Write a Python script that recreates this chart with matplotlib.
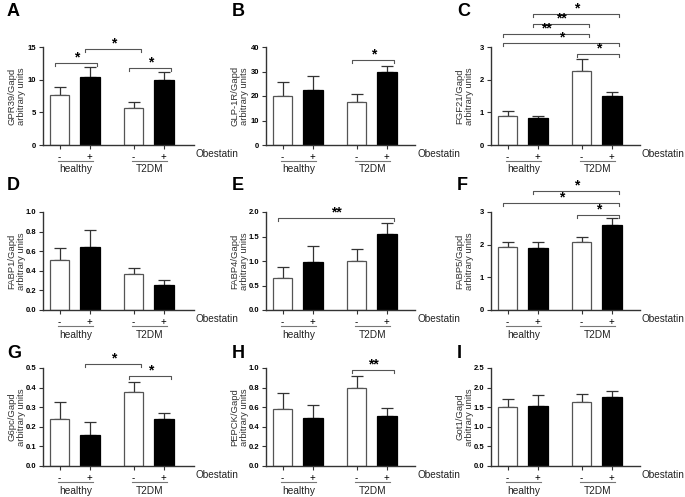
"""
Expresión relativa de genes (9 paneles A-I), healthy vs T2DM, con y sin Obestatin.
Barras blancas = sin Obestatin, negras = con Obestatin; error = SEM hacia arriba.
"""
import matplotlib
matplotlib.use("Agg")
import matplotlib.pyplot as plt

plt.rcParams["font.family"] = ["Liberation Sans", "DejaVu Sans"]

# ==================================================
OUT_PNG = "out.png"
W, H = 685, 497
GRIS = "#555555"

letras = ["A", "B", "C", "D", "E", "F", "G", "H", "I"]
genes = ["GPR39", "GLP-1R", "FGF21", "FABP1", "FABP4", "FABP5", "G6pc", "PEPCK", "Got1"]
grupos = ["healthy", "T2DM"]
tick_labels = ["-", "+", "-", "+"]

# orden de barras: healthy -, healthy +, T2DM -, T2DM +
medias = [
    [7.7, 10.4, 5.7, 9.9],
    [20.2, 22.5, 17.5, 29.8],
    [0.90, 0.83, 2.28, 1.50],
    [0.51, 0.64, 0.37, 0.26],
    [0.66, 0.97, 1.00, 1.56],
    [1.93, 1.90, 2.08, 2.60],
    [0.24, 0.16, 0.38, 0.24],
    [0.58, 0.49, 0.80, 0.51],
    [1.51, 1.54, 1.63, 1.77],
]
sems = [
    [1.2, 1.5, 0.9, 1.3],
    [5.6, 5.8, 3.4, 2.5],
    [0.15, 0.07, 0.35, 0.12],
    [0.12, 0.18, 0.06, 0.05],
    [0.21, 0.34, 0.25, 0.22],
    [0.16, 0.19, 0.14, 0.21],
    [0.085, 0.065, 0.05, 0.03],
    [0.16, 0.13, 0.12, 0.08],
    [0.21, 0.27, 0.20, 0.15],
]
yticks = [
    [0, 5, 10, 15],
    [0, 10, 20, 30, 40],
    [0, 1, 2, 3],
    [0.0, 0.2, 0.4, 0.6, 0.8, 1.0],
    [0.0, 0.5, 1.0, 1.5, 2.0],
    [0, 1, 2, 3],
    [0.0, 0.1, 0.2, 0.3, 0.4, 0.5],
    [0.0, 0.2, 0.4, 0.6, 0.8, 1.0],
    [0.0, 0.5, 1.0, 1.5, 2.0, 2.5],
]
ytick_fmt = ["{:.0f}", "{:.0f}", "{:.0f}", "{:.1f}", "{:.1f}", "{:.0f}", "{:.1f}", "{:.1f}", "{:.1f}"]
# (barra i, barra j, altura, etiqueta)
corchetes = [
    [(0, 1, 12.6, "*"), (1, 2, 14.7, "*"), (2, 3, 11.8, "*")],
    [(2, 3, 34.7, "*")],
    [(1, 3, 4.02, "*"), (1, 2, 3.70, "**"), (0, 2, 3.39, "**"), (0, 3, 3.12, "*"), (2, 3, 2.78, "*")],
    [],
    [(0, 3, 1.88, "**")],
    [(1, 3, 3.63, "*"), (0, 3, 3.27, "*"), (2, 3, 2.91, "*")],
    [(1, 2, 0.52, "*"), (2, 3, 0.46, "*")],
    [(2, 3, 0.98, "**")],
    [],
]
# =============================================================

POS = [0, 1, 2.45, 3.45]
COL_X = [43, 266, 491]          # px del eje y de cada columna
COL_W = [151, 149, 149]
ROW_Y = [145, 310, 466]         # px del eje x de cada fila
LETRA_Y = [12, 185, 354]
AX_H = 98


def panel(fig, k):
    col, row = k % 3, k // 3
    x0, yb, aw = COL_X[col], ROW_Y[row], COL_W[col]
    ax = fig.add_axes([x0 / W, 1 - yb / H, aw / W, AX_H / H])
    ax.errorbar(POS, medias[k], yerr=[[0] * 4, sems[k]], fmt="none", ecolor="#333333",
                elinewidth=0.9, capsize=4, capthick=0.9, zorder=1)
    ax.bar(POS, medias[k], width=0.65, color=["white", "black", "white", "black"],
           edgecolor=[GRIS, "black", GRIS, "black"], linewidth=0.9, zorder=2)
    yt = yticks[k]
    ax.set_ylim(0, yt[-1]); ax.set_xlim(-0.55, 4.45 - (151 - aw) / 30)
    ax.set_yticks(yt); ax.set_yticklabels([ytick_fmt[k].format(v) for v in yt],
                                          fontsize=5.5, fontweight="bold")
    ax.set_xticks(POS); ax.set_xticklabels(tick_labels, fontsize=7)
    ax.tick_params(axis="both", length=3, width=0.8, pad=2, color="#333333")
    for s in ["top", "right"]:
        ax.spines[s].set_visible(False)
    for s in ["left", "bottom"]:
        ax.spines[s].set_linewidth(1.0); ax.spines[s].set_color("#333333")
    ax.set_ylabel(f"{genes[k]}/Gapd\narbitrary units", fontsize=6.8, color="#333333", linespacing=1.1)
    ax.yaxis.set_label_coords(-17 / aw, 0.5)
    tr = ax.get_xaxis_transform()
    ax.text(1 + 2 / aw, -9 / AX_H, "Obestatin", transform=ax.transAxes, fontsize=7.2,
            ha="left", va="center", color="#222222")
    for g, nombre in enumerate(grupos):
        a, b = POS[2 * g], POS[2 * g + 1]
        ax.plot([a - 0.05, b + 0.1], [-16 / AX_H] * 2, color="#777777", lw=0.8,
                transform=tr, clip_on=False)
        ax.text((a + b) / 2 + 0.03, -24.5 / AX_H, nombre, transform=tr, fontsize=7.3,
                ha="center", va="center", color="#222222")
    drop = 0.03 * yt[-1]
    for i, j, y, lab in corchetes[k]:
        xa, xb = POS[i] - 0.15, POS[j] + 0.25
        ax.plot([xa, xa, xb, xb], [y - drop, y, y, y - drop], color=GRIS, lw=0.8, clip_on=False)
        ax.annotate(lab, ((xa + xb) / 2, y), xytext=(0, -1), textcoords="offset points",
                    ha="center", va="bottom", fontsize=10, fontweight="bold", annotation_clip=False)
    fig.text([7, 232, 457][col] / W, 1 - LETRA_Y[row] / H, letras[k], fontsize=13,
             fontweight="bold", ha="left", va="center")
    return ax


def main():
    fig = plt.figure(figsize=(W / 100, H / 100), dpi=100)
    for k in range(9):
        panel(fig, k)
    fig.savefig(OUT_PNG, dpi=100)
    plt.close(fig)


if __name__ == "__main__":
    main()
